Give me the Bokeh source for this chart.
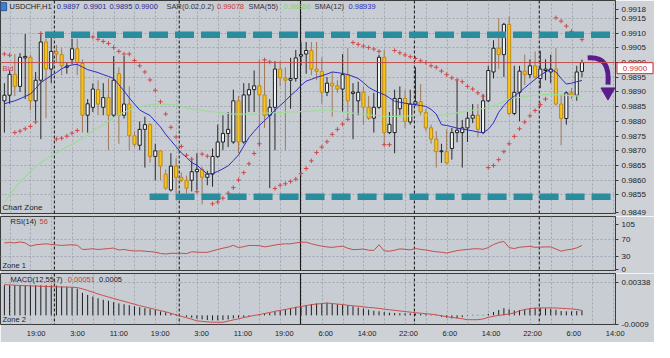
from bokeh.plotting import figure
from bokeh.layouts import column
from bokeh.models import FixedTicker, Span, Label, Range1d
from bokeh.core.properties import value
from bokeh.embed import file_html
from bokeh.resources import INLINE

# ---------------- data ----------------
opens = [
    0.98870, 0.98889, 0.98960, 0.98919, 0.99016, 0.99018, 0.98870, 0.98940, 0.99070, 0.98978,
    0.99038, 0.99027, 0.98984, 0.99011, 0.99047, 0.98997, 0.98821, 0.98848, 0.98908, 0.98848,
    0.98881, 0.98821, 0.98962, 0.98821, 0.98859, 0.98751, 0.98719, 0.98773, 0.98789, 0.98681,
    0.98700, 0.98621, 0.98567, 0.98648, 0.98610, 0.98600, 0.98600, 0.98629, 0.98637, 0.98610,
    0.98621, 0.98681, 0.98730, 0.98759, 0.98730, 0.98870, 0.98730, 0.98890, 0.98908, 0.98921,
    0.98890, 0.98821, 0.98848, 0.98978, 0.98948, 0.98940, 0.98946, 0.99022, 0.99029, 0.99041,
    0.98978, 0.98970, 0.98899, 0.98930, 0.98921, 0.98910, 0.98959, 0.98895, 0.98870, 0.98899,
    0.98848, 0.98811, 0.98848, 0.99018, 0.98762, 0.98762, 0.98843, 0.98878, 0.98798, 0.98859,
    0.98867, 0.98830, 0.98778, 0.98740, 0.98697, 0.98697, 0.98708, 0.98762, 0.98762, 0.98778,
    0.98811, 0.98821, 0.98762, 0.98870, 0.98968, 0.99049, 0.99027, 0.99130, 0.98827, 0.98899,
    0.98971, 0.98959, 0.98989, 0.98946, 0.98973, 0.98968, 0.98978, 0.98859, 0.98810, 0.98897,
    0.98889, 0.98970,
]
highs = [
    0.98930, 0.98973, 0.99029, 0.99032, 0.99097, 0.99027, 0.98968, 0.99097, 0.99081, 0.99097,
    0.99060, 0.99049, 0.99000, 0.99081, 0.99081, 0.99011, 0.98876, 0.98929, 0.98940, 0.98930,
    0.98946, 0.99022, 0.98984, 0.99022, 0.98919, 0.98767, 0.98800, 0.98816, 0.98794, 0.98724,
    0.98702, 0.98637, 0.98692, 0.98675, 0.98627, 0.98616, 0.98670, 0.98692, 0.98646, 0.98632,
    0.98708, 0.98789, 0.98821, 0.98832, 0.98908, 0.98886, 0.98930, 0.98930, 0.98973, 0.99011,
    0.99011, 0.98876, 0.99005, 0.99005, 0.98984, 0.99016, 0.99043, 0.99070, 0.99070, 0.99070,
    0.99070, 0.99018, 0.98951, 0.98968, 0.98940, 0.99029, 0.99049, 0.98930, 0.98935, 0.98919,
    0.98886, 0.98897, 0.99027, 0.99043, 0.98832, 0.98908, 0.98919, 0.98908, 0.98908, 0.98984,
    0.98927, 0.98843, 0.98789, 0.98767, 0.98724, 0.98773, 0.98778, 0.98940, 0.98805, 0.98832,
    0.98859, 0.98859, 0.98892, 0.98989, 0.99076, 0.99151, 0.99135, 0.99157, 0.98989, 0.98989,
    0.99027, 0.99011, 0.99038, 0.99040, 0.99011, 0.99027, 0.99049, 0.98892, 0.98902, 0.98913,
    0.98989, 0.99010,
]
lows = [
    0.98762, 0.98860, 0.98886, 0.98900, 0.98876, 0.98838, 0.98800, 0.98740, 0.98811, 0.98930,
    0.99000, 0.98957, 0.98962, 0.98995, 0.98957, 0.98762, 0.98762, 0.98832, 0.98821, 0.98821,
    0.98702, 0.98815, 0.98724, 0.98810, 0.98702, 0.98713, 0.98702, 0.98643, 0.98660, 0.98600,
    0.98600, 0.98567, 0.98562, 0.98556, 0.98594, 0.98556, 0.98562, 0.98567, 0.98518, 0.98583,
    0.98578, 0.98675, 0.98702, 0.98713, 0.98724, 0.98692, 0.98724, 0.98832, 0.98832, 0.98713,
    0.98778, 0.98573, 0.98702, 0.98919, 0.98702, 0.98843, 0.98935, 0.98989, 0.98962, 0.98957,
    0.98940, 0.98859, 0.98886, 0.98816, 0.98897, 0.98832, 0.98811, 0.98740, 0.98821, 0.98789,
    0.98805, 0.98762, 0.98843, 0.98724, 0.98757, 0.98692, 0.98821, 0.98778, 0.98789, 0.98854,
    0.98821, 0.98767, 0.98724, 0.98643, 0.98659, 0.98654, 0.98670, 0.98729, 0.98643, 0.98730,
    0.98794, 0.98746, 0.98757, 0.98865, 0.98946, 0.98978, 0.98951, 0.98821, 0.98821, 0.98800,
    0.98924, 0.98946, 0.98946, 0.98913, 0.98940, 0.98930, 0.98854, 0.98719, 0.98789, 0.98876,
    0.98870, 0.98950,
]
closes = [
    0.98889, 0.98960, 0.98919, 0.99018, 0.99021, 0.98870, 0.98940, 0.99070, 0.98978, 0.99038,
    0.99029, 0.98989, 0.98988, 0.99047, 0.99000, 0.98821, 0.98860, 0.98910, 0.98859, 0.98881,
    0.98821, 0.98940, 0.98821, 0.98859, 0.98751, 0.98722, 0.98773, 0.98789, 0.98681, 0.98700,
    0.98648, 0.98573, 0.98648, 0.98610, 0.98600, 0.98573, 0.98629, 0.98637, 0.98610, 0.98621,
    0.98681, 0.98730, 0.98759, 0.98773, 0.98870, 0.98730, 0.98890, 0.98908, 0.98921, 0.98890,
    0.98821, 0.98848, 0.98978, 0.98948, 0.98940, 0.98946, 0.99016, 0.99027, 0.99041, 0.98978,
    0.98970, 0.98899, 0.98930, 0.98921, 0.98910, 0.98959, 0.98870, 0.98900, 0.98899, 0.98848,
    0.98811, 0.98848, 0.99018, 0.98762, 0.98790, 0.98878, 0.98878, 0.98800, 0.98859, 0.98867,
    0.98832, 0.98778, 0.98740, 0.98697, 0.98700, 0.98659, 0.98762, 0.98770, 0.98778, 0.98811,
    0.98821, 0.98773, 0.98870, 0.98973, 0.99049, 0.99027, 0.99130, 0.98827, 0.98899, 0.98971,
    0.98959, 0.98989, 0.98951, 0.98978, 0.98978, 0.98978, 0.98859, 0.98810, 0.98897, 0.98889,
    0.98968, 0.99000,
]
sar = [
    0.99029, 0.99025, 0.98762, 0.98767, 0.98775, 0.98783, 0.98798, 0.99099, None, None,
    0.98740, 0.98743, 0.98750, 0.98760, 0.98769, None, None, 0.99087, 0.99079, 0.99072,
    0.99065, 0.99051, 0.99038, 0.99029, 0.99029, 0.99007, 0.98989, 0.98968, 0.98941, 0.98906,
    0.98867, 0.98825, 0.98780, 0.98747, 0.98715, 0.98685, 0.98672, 0.98561, 0.98689, 0.98682,
    0.98520, 0.98526, 0.98539, 0.98556, 0.98575, 0.98601, 0.98626, 0.98656, 0.98691, 0.98724,
    0.99009, 0.99002, 0.98572, 0.98583, 0.98588, 0.98596, 0.98604, 0.98623, 0.98640, 0.98666,
    0.98694, 0.98713, 0.98731, 0.98756, 0.98773, 0.98791, 0.98807, 0.99068, 0.99062, 0.99056,
    0.99051, 0.99046, 0.99038, 0.98721, 0.98721, 0.99041, 0.99033, 0.99026, 0.99020, 0.99014,
    0.99006, 0.99000, 0.98989, 0.98984, 0.98971, 0.98959, 0.98948, 0.98941, 0.98935, 0.98919,
    0.98910, 0.98897, 0.98886, 0.98643, 0.98650, 0.98670, 0.98697, 0.98724, 0.98749, 0.98775,
    0.98798, 0.98819, 0.98837, 0.98857, 0.98876, None, 0.99152, 0.99141, 0.99124, 0.99106,
    None, 0.99078,
]
sma12 = [
    0.98860, 0.98865, 0.98870, 0.98877, 0.98885, 0.98893, 0.98912, 0.98932, 0.98944, 0.98956,
    0.98966, 0.98979, 0.98987, 0.98992, 0.98994, 0.98985, 0.98976, 0.98971, 0.98966, 0.98959,
    0.98953, 0.98946, 0.98925, 0.98903, 0.98880, 0.98859, 0.98839, 0.98829, 0.98820, 0.98800,
    0.98781, 0.98756, 0.98735, 0.98714, 0.98693, 0.98678, 0.98660, 0.98651, 0.98636, 0.98621,
    0.98623, 0.98630, 0.98639, 0.98649, 0.98667, 0.98686, 0.98716, 0.98745, 0.98766, 0.98786,
    0.98803, 0.98820, 0.98838, 0.98854, 0.98870, 0.98888, 0.98903, 0.98922, 0.98937, 0.98943,
    0.98950, 0.98955, 0.98961, 0.98968, 0.98966, 0.98963, 0.98959, 0.98953, 0.98946, 0.98932,
    0.98916, 0.98906, 0.98898, 0.98891, 0.98880, 0.98869, 0.98865, 0.98862, 0.98859, 0.98857,
    0.98854, 0.98851, 0.98841, 0.98825, 0.98789, 0.98786, 0.98782, 0.98777, 0.98774, 0.98771,
    0.98768, 0.98764, 0.98762, 0.98773, 0.98795, 0.98831, 0.98854, 0.98873, 0.98886, 0.98899,
    0.98914, 0.98929, 0.98943, 0.98957, 0.98968, 0.98977, 0.98968, 0.98946, 0.98927, 0.98930,
    0.98935, 0.98939,
]
sma55 = [
    0.98526, 0.98550, 0.98573, 0.98594, 0.98612, 0.98630, 0.98646, 0.98660, 0.98672, 0.98683,
    0.98693, 0.98703, 0.98714, 0.98722, 0.98732, 0.98743, 0.98755, 0.98768, 0.98779, 0.98789,
    0.98800, 0.98813, 0.98823, 0.98831, 0.98839, 0.98846, 0.98850, 0.98854, 0.98857, 0.98859,
    0.98859, 0.98859, 0.98857, 0.98856, 0.98852, 0.98847, 0.98842, 0.98839, 0.98838, 0.98834,
    0.98833, 0.98831, 0.98829, 0.98827, 0.98825, 0.98825, 0.98825, 0.98825, 0.98825, 0.98826,
    0.98828, 0.98829, 0.98830, 0.98831, 0.98831, 0.98832, 0.98832, 0.98833, 0.98834, 0.98835,
    0.98837, 0.98838, 0.98838, 0.98836, 0.98834, 0.98832, 0.98830, 0.98828, 0.98826, 0.98825,
    0.98822, 0.98821, 0.98820, 0.98818, 0.98817, 0.98817, 0.98817, 0.98818, 0.98819, 0.98820,
    0.98821, 0.98821, 0.98821, 0.98821, 0.98821, 0.98824, 0.98826, 0.98829, 0.98832, 0.98835,
    0.98838, 0.98841, 0.98844, 0.98848, 0.98853, 0.98860, 0.98868, 0.98877, 0.98880, 0.98882,
    0.98885, 0.98887, 0.98889, 0.98890, 0.98891, 0.98892, 0.98891, 0.98890, 0.98889, 0.98888,
    0.98887, 0.98886,
]
rsi = [
    61.8, 62.7, 61.8, 64.0, 61.8, 54.3, 57.5, 58.6, 59.7, 58.4,
    57.1, 56.0, 56.9, 57.5, 56.5, 46.8, 47.2, 48.5, 46.8, 47.8,
    48.9, 50.0, 45.5, 46.8, 44.6, 43.3, 43.7, 42.9, 41.8, 40.7,
    37.7, 36.4, 38.1, 38.1, 38.1, 37.3, 41.4, 40.9, 40.1, 40.3,
    43.5, 46.8, 49.8, 52.2, 56.2, 51.1, 53.2, 56.0, 56.0, 55.4,
    52.8, 54.5, 56.9, 58.8, 59.7, 59.7, 61.8, 63.4, 63.4, 59.7,
    56.9, 54.3, 52.6, 51.5, 53.2, 54.3, 49.6, 46.5, 46.8, 47.8,
    45.1, 44.6, 57.5, 43.5, 42.9, 45.1, 48.1, 47.2, 45.9, 48.9,
    47.0, 45.5, 43.3, 41.6, 40.3, 38.6, 41.4, 44.2, 45.7, 46.8,
    48.1, 48.5, 47.2, 51.1, 58.0, 62.7, 65.1, 51.1, 48.9, 51.9,
    53.0, 53.9, 51.7, 52.2, 52.6, 52.6, 47.8, 42.9, 45.7, 47.4,
    50.4, 56.0,
]
macd_main = [
    0.00306, 0.00306, 0.00306, 0.00306, 0.00306, 0.00306, 0.00306, 0.00306, 0.00306, 0.00306,
    0.00303, 0.00296, 0.00290, 0.00284, 0.00272, 0.00230, 0.00208, 0.00191, 0.00174, 0.00159,
    0.00149, 0.00135, 0.00122, 0.00113, 0.00103, 0.00093, 0.00083, 0.00073, 0.00064, 0.00054,
    0.00041, 0.00031, 0.00022, 0.00012, -0.00002, -0.00015, -0.00024, -0.00034, -0.00041, -0.00047,
    -0.00051, -0.00051, -0.00047, -0.00041, -0.00031, -0.00024, -0.00018, -0.00012, -0.00002, 0.00008,
    0.00018, 0.00024, 0.00037, 0.00050, 0.00061, 0.00073, 0.00086, 0.00096, 0.00106, 0.00116,
    0.00122, 0.00125, 0.00129, 0.00119, 0.00113, 0.00106, 0.00100, 0.00093, 0.00080, 0.00070,
    0.00057, 0.00047, 0.00041, 0.00034, 0.00027, 0.00024, 0.00022, 0.00022, 0.00022, 0.00018,
    0.00015, 0.00012, 0.00005, -0.00005, -0.00015, -0.00024, -0.00031, -0.00031, -0.00018, -0.00005,
    0.00005, 0.00005, 0.00005, 0.00015, 0.00034, 0.00054, 0.00073, 0.00061, 0.00050, 0.00054,
    0.00061, 0.00070, 0.00076, 0.00076, 0.00073, 0.00067, 0.00057, 0.00044, 0.00041, 0.00041,
    0.00045, 0.00051,
]
macd_signal = [
    0.00313, 0.00310, 0.00307, 0.00304, 0.00302, 0.00300, 0.00298, 0.00296, 0.00294, 0.00292,
    0.00290, 0.00289, 0.00288, 0.00286, 0.00283, 0.00270, 0.00253, 0.00236, 0.00217, 0.00202,
    0.00187, 0.00172, 0.00157, 0.00143, 0.00128, 0.00113, 0.00099, 0.00086, 0.00073, 0.00060,
    0.00048, 0.00036, 0.00021, 0.00005, -0.00010, -0.00024, -0.00039, -0.00056, -0.00061, -0.00066,
    -0.00070, -0.00070, -0.00070, -0.00058, -0.00046, -0.00035, -0.00023, -0.00012, -0.00001, 0.00008,
    0.00019, 0.00029, 0.00041, 0.00051, 0.00060, 0.00071, 0.00081, 0.00090, 0.00099, 0.00109,
    0.00115, 0.00120, 0.00125, 0.00121, 0.00115, 0.00110, 0.00103, 0.00097, 0.00093, 0.00087,
    0.00080, 0.00077, 0.00071, 0.00063, 0.00057, 0.00051, 0.00045, 0.00039, 0.00033, 0.00027,
    0.00022, 0.00017, 0.00012, 0.00006, -0.00005, -0.00013, -0.00021, -0.00027, -0.00035, -0.00044,
    -0.00044, -0.00044, -0.00037, -0.00020, -0.00010, 0.00000, 0.00007, 0.00014, 0.00025, 0.00046,
    0.00060, 0.00068, 0.00074, 0.00076, 0.00076, 0.00076, 0.00075, 0.00072, 0.00069, 0.00066,
    0.00060, 0.00050,
]

time_labels = ["19:00", "3:00", "11:00", "19:00", "3:00", "11:00", "19:00", "6:00",
               "14:00", "22:00", "6:00", "14:00", "22:00", "6:00", "14:00"]
price_ticks = [0.9849, 0.9855, 0.9860, 0.9865, 0.9870, 0.9875, 0.9880, 0.9885,
               0.9890, 0.9895, 0.9900, 0.9905, 0.9910, 0.9915, 0.9918]
price_grid = [0.9855, 0.9860, 0.9865, 0.9870, 0.9875, 0.9880, 0.9885, 0.9890,
              0.9895, 0.9900, 0.9905, 0.9910, 0.9915]
rsi_ticks = [0, 30, 70, 105]
macd_ticks = [-0.0009, 0.00338]
day_breaks = [9.6, 33.6, 56.9, 78.8, 102.8]
bid_price = 0.9900
bid_text = "0.9900"
bid_box_x = 121.2        # price-scale marker, right of the chart area
bid_box_y = 0.98981
resistance_level = 0.99095
support_level = 0.98544
resistance_start = 7.8
support_start = 27.9
levels_end = 116.9
arrow_path = dict(x0=[112.1], y0=[0.99016], cx0=[115.3], cy0=[0.99020],
                  cx1=[116.3], cy1=[0.98990], x1=[116.0], y1=[0.98925])
arrow_head = ([116.0], [0.98900])
icon_pos = ([-0.15], [0.99190])

# ---------------- styling ----------------
FONT = "Liberation Sans"
BG = "#c8ccd3"
BORDER = "#ced1d6"
OUTLINE = "#3c3c3c"
GRID = "#a2a7af"
TXT = "#232323"

n = len(opens)
idx = list(range(n))
x_range = Range1d(-0.75, 117.45)
vgrid = [1.1 + 4 * k for k in range(30)]
time_ticks = [6.1 + 7.95 * k for k in range(len(time_labels))]


def make_panel(height, y_range, bottom, xaxis=False):
    p = figure(width=654, height=height, x_range=x_range, y_range=y_range,
               x_axis_location="below" if xaxis else None, y_axis_location="right",
               toolbar_location=None, output_backend="svg",
               min_border_left=0, min_border_right=39, min_border_top=0,
               min_border_bottom=bottom,
               background_fill_color=BG, border_fill_color=BORDER,
               outline_line_color=OUTLINE, outline_line_width=1)
    p.xgrid.ticker = FixedTicker(ticks=vgrid)
    p.xgrid.grid_line_color = GRID
    p.xgrid.grid_line_dash = "2 2"
    p.ygrid.grid_line_color = GRID
    p.ygrid.grid_line_dash = "2 2"
    for k, d in enumerate(day_breaks):
        p.add_layout(Span(location=d, dimension="height", line_color="#111111",
                          line_width=1, line_dash="solid" if k == 2 else "3 2",
                          level="underlay"))
    ax = p.yaxis[0]
    ax.major_tick_out = 3
    ax.major_tick_in = 0
    ax.minor_tick_out = 0
    ax.minor_tick_in = 0
    ax.major_tick_line_color = OUTLINE
    ax.axis_line_color = OUTLINE
    ax.major_label_standoff = 3
    ax.major_label_text_font = FONT
    ax.major_label_text_font_size = "8px"
    ax.major_label_text_color = TXT
    return p


def label(p, text, x, y, color=TXT, size="7.5px"):
    p.add_layout(Label(x=x, y=y, x_units="screen", y_units="screen", text=text,
                       text_font=FONT, text_font_size=size, text_color=color,
                       text_baseline="middle", text_align="left"))


# ---------------- main price panel ----------------
p1 = make_panel(216, Range1d(0.98487, 0.99211), 3)
p1.yaxis.ticker = FixedTicker(ticks=price_ticks)
p1.yaxis.major_label_overrides = {t: f"{t:.4f}" for t in price_ticks}
p1.ygrid.ticker = FixedTicker(ticks=price_grid)

p1.add_layout(Span(location=bid_price, dimension="width", line_color="#c0504d",
                   line_width=1))

bull = [i for i in idx if closes[i] >= opens[i]]
bear = [i for i in idx if closes[i] < opens[i]]

p1.segment(x0=bull, x1=bull, y0=[lows[i] for i in bull], y1=[highs[i] for i in bull],
           line_color="#2a2a2a", line_width=1)
p1.segment(x0=bear, x1=bear, y0=[lows[i] for i in bear], y1=[highs[i] for i in bear],
           line_color="#a07a58", line_width=1)
p1.vbar(x=bull, width=0.6, bottom=[opens[i] for i in bull], top=[closes[i] for i in bull],
        fill_color="#eef3f3", line_color="#1e1e1e", line_width=1)
p1.vbar(x=bear, width=0.6, bottom=[closes[i] for i in bear], top=[opens[i] for i in bear],
        fill_color="#f6c21c", line_color="#c08a12", line_width=1)

p1.line(idx, sma55, line_color="#9edb98", line_width=1.2)
p1.line(idx, sma12, line_color="#2d2dc0", line_width=1)

sar_x = [i for i in idx if sar[i] is not None]
sar_y = [sar[i] for i in idx if sar[i] is not None]
p1.scatter(sar_x, sar_y, marker="cross", size=4.5, line_color="#d04848", line_width=1)

p1.segment(x0=[resistance_start, support_start], x1=[levels_end, levels_end],
           y0=[resistance_level, support_level], y1=[resistance_level, support_level],
           line_color="#2a8c9f", line_width=6.5, line_dash="19 7")

p1.bezier(line_color="#5a1d8c", line_width=5, **arrow_path)
p1.scatter(arrow_head[0], arrow_head[1], marker="inverted_triangle", size=14,
           fill_color="#5a1d8c", line_color="#5a1d8c")

# small symbol icon in the top-left corner
p1.rect(x=icon_pos[0], y=icon_pos[1], width=6, height=8, width_units="screen",
        height_units="screen", fill_color="#3f7fcf", line_color="#2a5a9a")

# price marker box on the price scale (drawn above the frame clip)
p1.rect(x=[bid_box_x], y=[bid_box_y], width=36, height=11, width_units="screen",
        height_units="screen", fill_color="white", line_color="#d03030",
        line_width=1, level="overlay")
p1.text(x=[bid_box_x], y=[bid_box_y], text=[bid_text], text_font=value(FONT),
        text_font_size="8px", text_color="#d03030", text_align="center",
        text_baseline="middle", level="overlay")

header = [("USDCHF,H1", 9.0, TXT), ("0.9897", 56.3, "#1f2b8f"), ("0.9901", 83.0, "#1f2b8f"),
          ("0.9895", 109.0, "#1f2b8f"), ("0.9900", 134.4, "#1f2b8f"),
          ("SAR(0.02,0.2)", 166.0, "#333333"), ("0.99078", 216.4, "#c83a3a"),
          ("SMA(55)", 248.0, "#333333"), ("0.98886", 283.0, "#86cf80"),
          ("SMA(12)", 314.0, "#333333"), ("0.98939", 348.0, "#2d2dc0")]
for text, x, col in header:
    label(p1, text, x, 207.5, col)
label(p1, "Chart Zone", 2, 6, TXT, "8px")
label(p1, "Bid", 2, 145, "#d04040", "7.5px")

# ---------------- RSI panel ----------------
p2 = make_panel(57, Range1d(-1.3, 122.2), 3)
p2.yaxis.ticker = FixedTicker(ticks=rsi_ticks)
p2.ygrid.ticker = FixedTicker(ticks=[30, 70])
p2.line(idx, rsi, line_color="#c0504d", line_width=1)
label(p2, "RSI(14)", 10, 49)
label(p2, "56", 39, 49, "#c83a3a")
label(p2, "Zone 1", 2, 5)

# ---------------- MACD panel ----------------
p3 = make_panel(69, Range1d(-0.00093, 0.00426), 18, xaxis=True)
p3.yaxis.ticker = FixedTicker(ticks=macd_ticks)
p3.yaxis.major_label_overrides = {-0.0009: "-0.0009", 0.00338: "0.00338"}
p3.ygrid.ticker = FixedTicker(ticks=[0.00338])
p3.segment(x0=idx, x1=idx, y0=[0] * n, y1=macd_main, line_color="#1e1e1e", line_width=1)
p3.line(idx, macd_signal, line_color="#c8504c", line_width=1)
label(p3, "MACD(12,55,7)", 10, 45.5)
label(p3, "0.00051", 67.3, 45.5, "#c83a3a")
label(p3, "0.0005", 98.6, 45.5)
label(p3, "Zone 2", 2, 5.5)

xa = p3.xaxis[0]
xa.ticker = FixedTicker(ticks=time_ticks)
xa.major_label_overrides = {t: s for t, s in zip(time_ticks, time_labels)}
xa.major_tick_out = 0
xa.major_tick_in = 0
xa.minor_tick_out = 0
xa.minor_tick_in = 0
xa.axis_line_color = None
xa.major_label_standoff = 4
xa.major_label_text_font = FONT
xa.major_label_text_font_size = "7.5px"
xa.major_label_text_color = TXT

layout = column(p1, p2, p3, spacing=0)
open("out.html", "w").write(file_html(layout, INLINE))
